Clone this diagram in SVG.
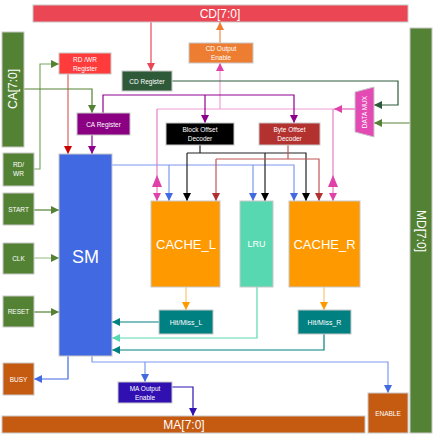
<svg xmlns="http://www.w3.org/2000/svg" width="434" height="440" viewBox="0 0 434 440">
<style>
.box{stroke:#C8C8C8;stroke-width:1}
.t{font-family:"Liberation Sans","Noto Sans",Arial,sans-serif;fill:#FFFFFF;text-anchor:middle}
.s{font-size:6.5px}
.m{font-size:7px}
.big{font-size:13px}
.bus{font-size:12px}
.w{fill:none;stroke-width:1.2}
</style>
<defs>
<marker id="aRed" viewBox="0 0 8 8" refX="8" refY="4" markerWidth="8" markerHeight="8" orient="auto" markerUnits="userSpaceOnUse"><path d="M0,0L8,4L0,8z" fill="#E84855"/></marker>
<marker id="aOr" viewBox="0 0 8 8" refX="8" refY="4" markerWidth="8" markerHeight="8" orient="auto" markerUnits="userSpaceOnUse"><path d="M0,0L8,4L0,8z" fill="#ED7D31"/></marker>
<marker id="aPink" viewBox="0 0 8 8" refX="8" refY="4" markerWidth="8" markerHeight="8" orient="auto" markerUnits="userSpaceOnUse"><path d="M0,0L8,4L0,8z" fill="#E040A8"/></marker>
<marker id="aPur" viewBox="0 0 8 8" refX="8" refY="4" markerWidth="8" markerHeight="8" orient="auto" markerUnits="userSpaceOnUse"><path d="M0,0L8,4L0,8z" fill="#8B008B"/></marker>
<marker id="aRw" viewBox="0 0 8 8" refX="8" refY="4" markerWidth="8" markerHeight="8" orient="auto" markerUnits="userSpaceOnUse"><path d="M0,0L8,4L0,8z" fill="#CC0000"/></marker>
<marker id="aGr" viewBox="0 0 8 8" refX="8" refY="4" markerWidth="8" markerHeight="8" orient="auto" markerUnits="userSpaceOnUse"><path d="M0,0L8,4L0,8z" fill="#548235"/></marker>
<marker id="aDg" viewBox="0 0 8 8" refX="8" refY="4" markerWidth="8" markerHeight="8" orient="auto" markerUnits="userSpaceOnUse"><path d="M0,0L8,4L0,8z" fill="#2E5A3A"/></marker>
<marker id="aBl" viewBox="0 0 8 8" refX="8" refY="4" markerWidth="8" markerHeight="8" orient="auto" markerUnits="userSpaceOnUse"><path d="M0,0L8,4L0,8z" fill="#4169E1"/></marker>
<marker id="aBk" viewBox="0 0 8 8" refX="8" refY="4" markerWidth="8" markerHeight="8" orient="auto" markerUnits="userSpaceOnUse"><path d="M0,0L8,4L0,8z" fill="#000000"/></marker>
<marker id="aBy" viewBox="0 0 8 8" refX="8" refY="4" markerWidth="8" markerHeight="8" orient="auto" markerUnits="userSpaceOnUse"><path d="M0,0L8,4L0,8z" fill="#B03030"/></marker>
<marker id="aCa" viewBox="0 0 8 8" refX="8" refY="4" markerWidth="8" markerHeight="8" orient="auto" markerUnits="userSpaceOnUse"><path d="M0,0L8,4L0,8z" fill="#FF9900"/></marker>
<marker id="aTe" viewBox="0 0 8 8" refX="8" refY="4" markerWidth="8" markerHeight="8" orient="auto" markerUnits="userSpaceOnUse"><path d="M0,0L8,4L0,8z" fill="#008080"/></marker>
<marker id="aLr" viewBox="0 0 8 8" refX="8" refY="4" markerWidth="8" markerHeight="8" orient="auto" markerUnits="userSpaceOnUse"><path d="M0,0L8,4L0,8z" fill="#57D8B0"/></marker>
<marker id="aIn" viewBox="0 0 8 8" refX="8" refY="4" markerWidth="8" markerHeight="8" orient="auto" markerUnits="userSpaceOnUse"><path d="M0,0L8,4L0,8z" fill="#3010B0"/></marker>
</defs>

<g id="connectors">
<path class="w" stroke="#E84855" d="M151,22V71" marker-end="url(#aRed)"/>
<path class="w" stroke="#F08A50" d="M220,43V22" marker-end="url(#aOr)"/>
<path class="w" stroke="#F29FD6" d="M220,109V63" marker-end="url(#aPink)"/>
<path class="w" stroke="#F29FD6" d="M157,109H355"/>
<path class="w" stroke="#EB7CC8" d="M355,109H334" marker-end="url(#aPink)"/>
<path class="w" stroke="#EB7CC8" d="M157,109V201" marker-end="url(#aPink)"/>
<path fill="#E040A8" d="M152,187H162L157,175z"/>
<path class="w" stroke="#EB7CC8" d="M333,109V201" marker-end="url(#aPink)"/>
<path fill="#E040A8" d="M328,187H338L333,175z"/>
<path class="w" stroke="#900090" d="M103,113V95H294V123" marker-end="url(#aPur)"/>
<path class="w" stroke="#900090" d="M205,95V123" marker-end="url(#aPur)"/>
<path class="w" stroke="#900090" d="M92,135V154" marker-end="url(#aPur)"/>
<path class="w" stroke="#E06060" d="M68,74V154" marker-end="url(#aRw)"/>
<path class="w" stroke="#7AA862" d="M34,169H40V64H59" marker-end="url(#aGr)"/>
<path class="w" stroke="#548235" d="M24,89H92V113" marker-end="url(#aGr)"/>
<path class="w" stroke="#2E5A3A" d="M172,81H398V105H374" marker-end="url(#aDg)"/>
<path class="w" stroke="#548235" d="M410,123H374" marker-end="url(#aGr)"/>
<path class="w" stroke="#548235" d="M34,210H59" marker-end="url(#aGr)"/>
<path class="w" stroke="#A6C595" d="M34,258H59" marker-end="url(#aGr)"/>
<path class="w" stroke="#548235" d="M34,312H59" marker-end="url(#aGr)"/>
<path class="w" stroke="#7C98EE" d="M112,165H294V201" marker-end="url(#aBl)"/>
<path class="w" stroke="#7C98EE" d="M169,165V201" marker-end="url(#aBl)"/>
<path class="w" stroke="#7C98EE" d="M253,165V201" marker-end="url(#aBl)"/>
<path class="w" stroke="#222222" d="M200,145V153"/>
<path class="w" stroke="#222222" d="M187,153H306V201" marker-end="url(#aBk)"/>
<path class="w" stroke="#222222" d="M187,153V201" marker-end="url(#aBk)"/>
<path class="w" stroke="#222222" d="M265,153V201" marker-end="url(#aBk)"/>
<path class="w" stroke="#C05555" d="M288,145V159"/>
<path class="w" stroke="#C05555" d="M216,159H319V201" marker-end="url(#aBy)"/>
<path class="w" stroke="#C05555" d="M216,159V201" marker-end="url(#aBy)"/>
<path class="w" stroke="#F9C57A" d="M186,287V310" marker-end="url(#aCa)"/>
<path class="w" stroke="#F9C57A" d="M324,287V310" marker-end="url(#aCa)"/>
<path class="w" stroke="#008080" d="M159,322H112" marker-end="url(#aTe)"/>
<path class="w" stroke="#5ADBB5" d="M257,287V338H112" marker-end="url(#aLr)"/>
<path class="w" stroke="#008080" d="M324,334V350H112" marker-end="url(#aTe)"/>
<path class="w" stroke="#4169E1" d="M68,356V379H34" marker-end="url(#aBl)"/>
<path class="w" stroke="#7C98EE" d="M92,356V362H388V393" marker-end="url(#aBl)"/>
<path class="w" stroke="#7C98EE" d="M145,362V382" marker-end="url(#aBl)"/>
<path class="w" stroke="#3010B0" d="M172,387H193V416" marker-end="url(#aIn)"/>
</g>

<g id="cd-bus"><rect class="box" x="33" y="5" width="375" height="17" fill="#EA4653"/><text class="t bus" x="220" y="18">CD[7:0]</text></g>
<g id="ca-bus"><rect class="box" x="2" y="32" width="22" height="115" fill="#548235"/><text class="t bus" x="13" y="93" transform="rotate(-90 13 89)">CA[7:0]</text></g>
<g id="md-bus"><rect class="box" x="410" y="28" width="22" height="405" fill="#548235"/><text class="t bus" x="421" y="235" transform="rotate(90 421 231)">MD[7:0]</text></g>
<g id="ma-bus"><rect class="box" x="2" y="416" width="363" height="17" fill="#C55A11"/><text class="t bus" x="184" y="429">MA[7:0]</text></g>
<g id="enable"><rect class="box" x="368" y="393" width="40" height="40" fill="#C55A11"/><text class="t s" x="388" y="415.5">ENABLE</text></g>

<g id="rdwr"><rect class="box" x="3" y="153" width="31" height="33" fill="#548235"/><text class="t s" x="18.5" y="167">RD/</text><text class="t s" x="18.5" y="176">WR</text></g>
<g id="start"><rect class="box" x="3" y="193" width="31" height="32" fill="#548235"/><text class="t s" x="18.5" y="211.5">START</text></g>
<g id="clk"><rect class="box" x="3" y="243" width="31" height="31" fill="#548235"/><text class="t s" x="18.5" y="260.5">CLK</text></g>
<g id="reset"><rect class="box" x="3" y="296" width="31" height="31" fill="#548235"/><text class="t s" x="18.5" y="313.5">RESET</text></g>
<g id="busy"><rect class="box" x="3" y="363" width="31" height="32" fill="#C55A11"/><text class="t s" x="18.5" y="381.5">BUSY</text></g>

<g id="sm"><rect class="box" x="59" y="154" width="53" height="202" fill="#4169E1"/><text class="t" style="font-size:18px" x="85.5" y="262.5">SM</text></g>
<g id="cache-l"><rect class="box" x="151" y="201" width="69" height="86" fill="#FF9900"/><text class="t big" x="186" y="249">CACHE_L</text></g>
<g id="lru"><rect class="box" x="240" y="201" width="33" height="86" fill="#57D8B0"/><text class="t" style="font-size:9px" x="256.5" y="247">LRU</text></g>
<g id="cache-r"><rect class="box" x="289" y="201" width="71" height="86" fill="#FF9900"/><text class="t big" x="324.5" y="249">CACHE_R</text></g>

<g id="hitmiss-l"><rect class="box" x="159" y="310" width="54" height="24" fill="#008080"/><text class="t m" x="186" y="324.5">Hit/Miss_L</text></g>
<g id="hitmiss-r"><rect class="box" x="298" y="310" width="53" height="24" fill="#008080"/><text class="t m" x="324.5" y="324.5">Hit/Miss_R</text></g>
<g id="ma-out"><rect class="box" x="118" y="382" width="54" height="21" fill="#3010B0"/><text class="t s" x="145" y="390.5">MA Output</text><text class="t s" x="145" y="399.5">Enable</text></g>

<g id="rdwr-reg"><rect class="box" x="59" y="53" width="52" height="21" fill="#FF3B3B"/><text class="t s" x="85" y="61.5">RD /WR</text><text class="t s" x="85" y="70.5">Register</text></g>
<g id="cd-reg"><rect class="box" x="122" y="71" width="50" height="20" fill="#2E5A3A"/><text class="t s" x="147" y="83.5">CD Register</text></g>
<g id="ca-reg"><rect class="box" x="77" y="113" width="53" height="22" fill="#8B0082"/><text class="t s" x="103.5" y="126.5">CA Register</text></g>
<g id="cd-out"><rect class="box" x="189" y="43" width="64" height="20" fill="#ED7D31"/><text class="t s" x="221" y="51">CD Output</text><text class="t s" x="221" y="60">Enable</text></g>
<g id="block-dec"><rect class="box" x="166" y="123" width="68" height="22" fill="#000000"/><text class="t s" x="200" y="131.5">Block Offset</text><text class="t s" x="200" y="141">Decoder</text></g>
<g id="byte-dec"><rect class="box" x="259" y="123" width="61" height="22" fill="#B3312F"/><text class="t s" x="289.5" y="131.5">Byte Offset</text><text class="t s" x="289.5" y="141">Decoder</text></g>
<g id="data-mux"><polygon class="box" points="355,92 374,87 374,137 355,132" fill="#E34AB3"/><text class="t s" x="364.5" y="114.5" transform="rotate(-90 364.5 112)">DATA MUX</text></g>
</svg>
